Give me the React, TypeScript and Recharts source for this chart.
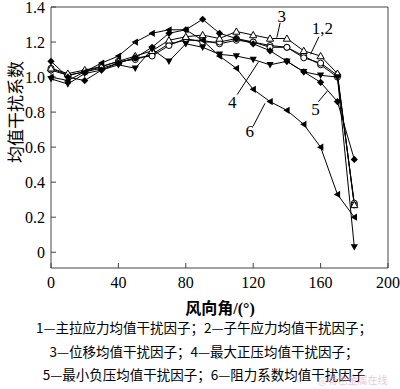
import React from 'react';
import { LineChart, Line, XAxis, YAxis, ReferenceLine, ReferenceDot } from 'recharts';

const angles = [0, 10, 20, 30, 40, 50, 60, 70, 80, 90, 100, 110, 120, 130, 140, 150, 160, 170, 180];
const s1 = [1.04, 1.01, 1.03, 1.06, 1.09, 1.10, 1.13, 1.19, 1.21, 1.21, 1.19, 1.21, 1.20, 1.18, 1.17, 1.12, 1.07, 1.00, 0.28];
const s2 = [1.05, 1.01, 1.03, 1.05, 1.08, 1.11, 1.12, 1.18, 1.22, 1.20, 1.20, 1.22, 1.20, 1.17, 1.17, 1.11, 1.08, 1.01, 0.27];
const s3 = [1.05, 1.02, 1.04, 1.06, 1.09, 1.12, 1.15, 1.21, 1.23, 1.24, 1.22, 1.26, 1.24, 1.22, 1.22, 1.15, 1.12, 1.02, 0.27];
const s4 = [0.99, 0.96, 1.02, 1.04, 1.07, 1.05, 1.16, 1.09, 1.19, 1.17, 1.13, 1.12, 1.10, 1.07, 1.09, 1.03, 1.01, 1.00, 0.03];
const s5 = [1.09, 1.00, 0.98, 1.04, 1.08, 1.11, 1.17, 1.25, 1.27, 1.33, 1.25, 1.22, 1.19, 1.15, 1.09, 1.03, 0.97, 0.86, 0.53];
const s6 = [1.00, 0.98, 1.03, 1.08, 1.12, 1.20, 1.25, 1.27, 1.27, 1.21, 1.12, 1.05, 0.93, 0.86, 0.81, 0.73, 0.60, 0.33, 0.20];

const xTicks = [0, 40, 80, 120, 160, 200];
const yTicks = [0, 0.2, 0.4, 0.6, 0.8, 1.0, 1.2, 1.4];

const curveLabels = [
  { text: '3', x: 137, y: 1.35, line: [[136, 1.31], [134, 1.225]] },
  { text: '1,2', x: 161, y: 1.28, line: [[159, 1.23], [154, 1.13]] },
  { text: '4', x: 107.5, y: 0.86, line: [[110.5, 0.9], [123, 1.085]] },
  { text: '5', x: 157, y: 0.82, line: [[158.7, 0.86], [164, 0.92]] },
  { text: '6', x: 118, y: 0.69, line: [[120, 0.72], [127, 0.85]] },
];

const captions = [
  '1—主拉应力均值干扰因子；2—子午应力均值干扰因子；',
  '3—位移均值干扰因子；4—最大正压均值干扰因子；',
  '5—最小负压均值干扰因子；6—阻力系数均值干扰因子',
];

const data = angles.map((a, i) => ({ a, s1: s1[i], s2: s2[i], s3: s3[i], s4: s4[i], s5: s5[i], s6: s6[i] }));

const makeDot = (shape: string) => (props: any) => {
  const { cx, cy, index } = props;
  const k = `${shape}-${index}`;
  if (cx == null || cy == null) return <g key={k} />;
  const s = 3.6;
  switch (shape) {
    case 'circle':
      return <circle key={k} cx={cx} cy={cy} r={3} fill="#fff" stroke="#000" strokeWidth={1} />;
    case 'up':
      return <path key={k} d={`M${cx},${cy - s} L${cx + s},${cy + s * 0.75} L${cx - s},${cy + s * 0.75}Z`} fill="#fff" stroke="#000" strokeWidth={1} />;
    case 'down':
      return <path key={k} d={`M${cx - s},${cy - s * 0.75} L${cx + s},${cy - s * 0.75} L${cx},${cy + s}Z`} fill="#000" />;
    case 'diamond':
      return <path key={k} d={`M${cx},${cy - s} L${cx + s},${cy} L${cx},${cy + s} L${cx - s},${cy}Z`} fill="#000" />;
    case 'left':
    default:
      return <path key={k} d={`M${cx - s},${cy} L${cx + s * 0.75},${cy - s} L${cx + s * 0.75},${cy + s}Z`} fill="#000" />;
  }
};

const serif = '"Liberation Serif", "DejaVu Serif", serif';
const cjk = '"Noto Sans CJK SC", "Noto Sans", sans-serif';

export default function App() {
  const axisColor = '#444';
  return (
    <div style={{ position: 'absolute', left: 0, top: 0, width: 400, height: 389, background: '#fff' }}>
      <LineChart width={400} height={300} data={data} margin={{ top: 7, right: 12, bottom: 0, left: 0 }} style={{ overflow: 'visible' }}>
        <XAxis
          dataKey="a"
          type="number"
          domain={[0, 200]}
          ticks={xTicks}
          height={32}
          tickSize={-5}
          tickMargin={14}
          stroke={axisColor}
          tick={{ fill: '#000', fontSize: 16, fontFamily: serif }}
          interval={0}
        />
        <YAxis
          type="number"
          domain={[-0.09, 1.4]}
          ticks={yTicks}
          width={51}
          tickSize={-5}
          tickMargin={11}
          stroke={axisColor}
          tick={{ fill: '#000', fontSize: 16, fontFamily: serif }}
          tickFormatter={(v: number) => (v === 0 ? '0' : v.toFixed(1))}
          interval={0}
        />
        <ReferenceLine x={200} stroke={axisColor} ifOverflow="visible" />
        <ReferenceLine y={1.4} stroke={axisColor} ifOverflow="visible" />
        <Line dataKey="s1" stroke="#000" strokeWidth={1} dot={makeDot('circle')} isAnimationActive={false} />
        <Line dataKey="s2" stroke="#000" strokeWidth={1} dot={makeDot('circle')} isAnimationActive={false} />
        <Line dataKey="s3" stroke="#000" strokeWidth={1} dot={makeDot('up')} isAnimationActive={false} />
        <Line dataKey="s4" stroke="#000" strokeWidth={1} dot={makeDot('down')} isAnimationActive={false} />
        <Line dataKey="s5" stroke="#000" strokeWidth={1} dot={makeDot('diamond')} isAnimationActive={false} />
        <Line dataKey="s6" stroke="#000" strokeWidth={1} dot={makeDot('left')} isAnimationActive={false} />
        {curveLabels.map((c) => (
          <ReferenceLine
            key={'l' + c.text}
            segment={[{ x: c.line[0][0], y: c.line[0][1] }, { x: c.line[1][0], y: c.line[1][1] }]}
            stroke="#000"
            strokeWidth={1}
          />
        ))}
        {curveLabels.map((c) => (
          <ReferenceDot
            key={'t' + c.text}
            x={c.x}
            y={c.y}
            r={0}
            fill="none"
            stroke="none"
            label={{ value: c.text, position: 'center', fill: '#000', fontSize: 17, fontFamily: serif }}
          />
        ))}
      </LineChart>
      <div
        style={{
          position: 'absolute', left: 15, top: 112, transform: 'translate(-50%, -50%) rotate(-90deg)',
          fontFamily: cjk, fontSize: 17, lineHeight: '18px', whiteSpace: 'nowrap', color: '#000',
        }}
      >
        均值干扰系数
      </div>
      <div style={{ position: 'absolute', left: 0, width: 440, top: 298, lineHeight: '18px', textAlign: 'center', fontSize: 16, fontWeight: 'bold', color: '#000', whiteSpace: 'nowrap' }}>
        <span style={{ fontFamily: cjk }}>风向角</span>
        <span style={{ fontFamily: serif }}>/(°)</span>
      </div>
      {captions.map((t, i) => (
        <div
          key={t}
          style={{
            position: 'absolute', left: 0, width: 408, top: 319 + i * 23.5, textAlign: 'center',
            fontFamily: cjk, fontSize: 13.5, lineHeight: '17px', color: '#000', whiteSpace: 'nowrap',
          }}
        >
          {t}
        </div>
      ))}
      <div style={{ position: 'absolute', left: 318, top: 374, fontFamily: cjk, fontSize: 10, lineHeight: '11px', color: '#e8a4ad', opacity: 0.6, whiteSpace: 'nowrap' }}>
        @有色金属在线
      </div>
    </div>
  );
}
